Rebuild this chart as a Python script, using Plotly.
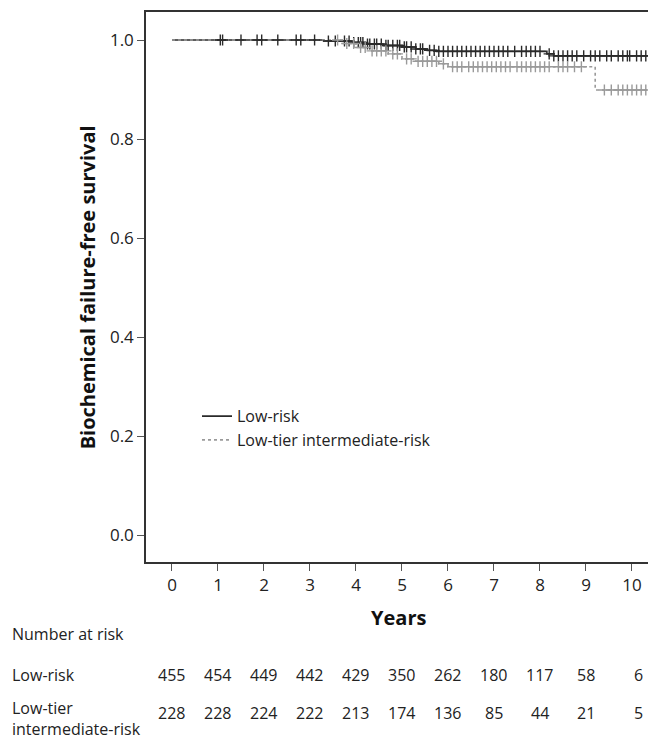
import plotly.graph_objects as go
import numpy as np

# ---- data ----
years_ticks = [0, 1, 2, 3, 4, 5, 6, 7, 8, 9, 10]
at_risk_low = [455, 454, 449, 442, 429, 350, 262, 180, 117, 58, 6]
at_risk_int = [228, 228, 224, 222, 213, 174, 136, 85, 44, 21, 5]

low_t = [0, 3.3, 3.9, 4.2, 4.6, 5.0, 5.3, 5.55, 5.75, 8.15, 8.3, 10.35]
low_s = [1.0, 0.998, 0.995, 0.992, 0.989, 0.986, 0.982, 0.979, 0.977, 0.972, 0.968, 0.968]

int_t = [0, 3.7, 4.0, 4.3, 4.7, 5.0, 5.3, 5.8, 6.0, 9.2, 10.35]
int_s = [1.0, 0.993, 0.985, 0.978, 0.972, 0.962, 0.957, 0.952, 0.946, 0.899, 0.899]

low_cens = [1.05, 1.1, 1.5, 1.85, 1.95, 2.3, 2.7, 2.8, 3.1, 3.4, 3.55, 3.75, 3.85, 3.95,
            4.05, 4.1, 4.15, 4.25, 4.3, 4.4, 4.45, 4.55, 4.65, 4.7, 4.8, 4.9, 4.95, 5.05,
            5.1, 5.2, 5.3, 5.4, 5.45, 5.6, 5.7, 5.8, 5.9, 6.0, 6.1, 6.2, 6.3, 6.4, 6.5,
            6.6, 6.7, 6.8, 6.9, 7.0, 7.1, 7.2, 7.3, 7.45, 7.6, 7.7, 7.8, 7.9, 8.0, 8.2,
            8.3, 8.4, 8.5, 8.6, 8.7, 8.8, 8.95, 9.1, 9.2, 9.3, 9.45, 9.55, 9.7, 9.8,
            9.9, 9.95, 10.1, 10.2, 10.3]
int_cens = [3.6, 3.8, 3.95, 4.1, 4.2, 4.35, 4.45, 4.55, 4.65, 4.8, 4.9, 5.1, 5.2, 5.35,
            5.45, 5.55, 5.65, 5.75, 5.9, 6.1, 6.2, 6.3, 6.45, 6.55, 6.65, 6.75, 6.85,
            6.95, 7.05, 7.15, 7.25, 7.35, 7.5, 7.6, 7.7, 7.8, 7.9, 8.0, 8.1, 8.2, 8.4,
            8.5, 8.6, 8.75, 8.9, 9.4, 9.55, 9.7, 9.8, 9.9, 10.0, 10.1, 10.2, 10.3]

DARK = "#2a2a2a"
GRAY = "#9a9a9a"
FONT = "Open Sans"


def step_val(ts, ss, x):
    idx = np.searchsorted(ts, x, side="right") - 1
    return [ss[i] for i in idx]


fig = go.Figure()
fig.add_trace(go.Scatter(x=low_t, y=low_s, mode="lines", line_shape="hv",
                         line=dict(color=DARK, width=1.6), name="Low-risk"))
fig.add_trace(go.Scatter(x=int_t, y=int_s, mode="lines", line_shape="hv",
                         line=dict(color=GRAY, width=1.6, dash="dot"),
                         name="Low-tier intermediate-risk"))
fig.add_trace(go.Scatter(x=low_cens, y=step_val(low_t, low_s, low_cens), mode="markers",
                         marker=dict(symbol="cross-thin-open", size=8, color=DARK,
                                     line=dict(color=DARK, width=1.4)),
                         showlegend=False, hoverinfo="skip"))
fig.add_trace(go.Scatter(x=int_cens, y=step_val(int_t, int_s, int_cens), mode="markers",
                         marker=dict(symbol="cross-thin-open", size=8, color=GRAY,
                                     line=dict(color=GRAY, width=1.4)),
                         showlegend=False, hoverinfo="skip"))

# page body has an 8px margin, so the figure is shrunk to fit the 656x740 window
fig.update_layout(
    width=648, height=732,
    margin=dict(l=138, r=0, t=4, b=178),
    paper_bgcolor="white", plot_bgcolor="white",
    font=dict(family=FONT, color="#222", size=16),
    showlegend=True,
    legend=dict(x=0.1, y=0.296, xanchor="left", yanchor="top",
                bgcolor="rgba(0,0,0,0)", font=dict(size=16, family=FONT),
                itemwidth=30, tracegroupgap=0),
)
fig.update_xaxes(range=[-0.565, 10.522], tickvals=years_ticks,
                 ticks="outside", ticklen=7, tickcolor="#555", tickwidth=1.3,
                 showline=True, linecolor="#333", linewidth=1.5, mirror=True,
                 showgrid=False, zeroline=False,
                 tickfont=dict(size=17, family=FONT, color="#222"))
fig.update_yaxes(range=[-0.0545, 1.0566], tickvals=[0, 0.2, 0.4, 0.6, 0.8, 1.0],
                 tickformat=".1f",
                 ticks="outside", ticklen=7, tickcolor="#555", tickwidth=1.3,
                 showline=True, linecolor="#333", linewidth=1.5,
                 showgrid=False, zeroline=False,
                 tickfont=dict(size=17, family=FONT, color="#222"))

ann = []
ann.append(dict(text="<b>Biochemical failure-free survival</b>", xref="paper", yref="paper",
                x=-0.115, y=0.5, xanchor="center", yanchor="middle", textangle=-90,
                showarrow=False, font=dict(size=20, family=FONT, color="#111")))
ann.append(dict(text="<b>Years</b>", xref="paper", yref="paper", x=0.495, y=-0.1,
                xanchor="center", yanchor="middle", showarrow=False,
                font=dict(size=20, family=FONT, color="#111")))
ann.append(dict(text="Number at risk", xref="paper", yref="paper", x=-0.267, y=-0.131,
                xanchor="left", yanchor="middle", showarrow=False,
                font=dict(size=16, family=FONT)))
ann.append(dict(text="Low-risk", xref="paper", yref="paper", x=-0.267, y=-0.205,
                xanchor="left", yanchor="middle", showarrow=False,
                font=dict(size=16, family=FONT)))
ann.append(dict(text="Low-tier<br>intermediate-risk", xref="paper", yref="paper",
                x=-0.267, y=-0.284, xanchor="left", yanchor="middle", showarrow=False,
                align="left", font=dict(size=16, family=FONT)))
for i, yr in enumerate(years_ticks):
    last = yr == years_ticks[-1]
    ann.append(dict(text=str(at_risk_low[i]), xref="x", yref="paper", x=yr,
                    xshift=13 if last else 0, y=-0.205,
                    xanchor="right" if last else "center", yanchor="middle",
                    showarrow=False, font=dict(size=16, family=FONT)))
    ann.append(dict(text=str(at_risk_int[i]), xref="x", yref="paper", x=yr,
                    xshift=13 if last else 0, y=-0.274,
                    xanchor="right" if last else "center", yanchor="middle",
                    showarrow=False, font=dict(size=16, family=FONT)))
fig.update_layout(annotations=ann)

fig.write_html("out.html")
